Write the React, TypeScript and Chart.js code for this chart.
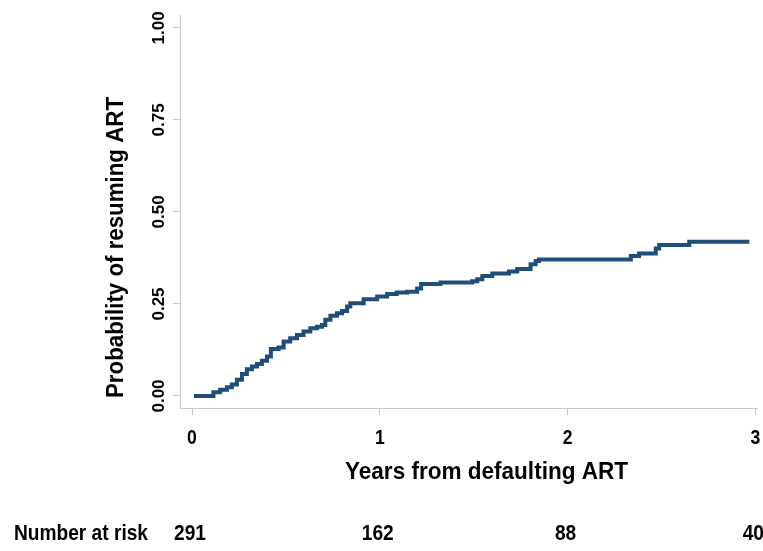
import React, { useEffect, useRef } from "react";
import { Chart, registerables } from "chart.js";

Chart.register(...registerables);

// Kaplan-Meier style cumulative probability of resuming ART (event times in years)
const eventTimes = [
  0.01, 0.09, 0.114, 0.15, 0.186, 0.212, 0.239, 0.266, 0.292, 0.319, 0.346, 0.372,
  0.399, 0.42, 0.461, 0.488, 0.523, 0.559, 0.594, 0.63, 0.666, 0.692, 0.71, 0.737,
  0.772, 0.799, 0.826, 0.843, 0.914, 0.986, 1.039, 1.09, 1.146, 1.199, 1.22, 1.323,
  1.492, 1.519, 1.546, 1.599, 1.688, 1.732, 1.803, 1.83, 1.848, 2.337, 2.381, 2.47,
  2.488, 2.648, 2.968,
];
const probResuming = [
  0, 0, 0.01, 0.017, 0.024, 0.031, 0.044, 0.06, 0.073, 0.08, 0.087, 0.096,
  0.107, 0.128, 0.132, 0.148, 0.157, 0.166, 0.175, 0.184, 0.188, 0.193, 0.207, 0.218,
  0.225, 0.231, 0.243, 0.252, 0.263, 0.27, 0.277, 0.281, 0.283, 0.292, 0.304, 0.308,
  0.312, 0.317, 0.326, 0.333, 0.338, 0.345, 0.358, 0.367, 0.371, 0.38, 0.387, 0.401,
  0.41, 0.419, 0.419,
];

const xTickValues = [0, 1, 2, 3];
const yTickValues = [0, 0.25, 0.5, 0.75, 1];
const yTickLabels = ["0.00", "0.25", "0.50", "0.75", "1.00"];
const riskTimes = [0, 1, 2, 3];
const riskCounts = [291, 162, 88, 40];

const xTitle = "Years from defaulting ART";
const yTitle = "Probability of resuming ART";
const riskLabel = "Number at risk";

const FONT = "'Liberation Sans', Arial, sans-serif";
const AXIS_GRAY = "#c8c8c8";
const LINE_BLUE = "#1f4e79";

function drawText(
  ctx: CanvasRenderingContext2D,
  text: string,
  x: number,
  y: number,
  sx: number,
  rotate: boolean
) {
  ctx.save();
  ctx.translate(x, y);
  if (rotate) ctx.rotate(-Math.PI / 2);
  ctx.scale(sx, 1);
  ctx.fillText(text, 0, 0);
  ctx.restore();
}

export default function App() {
  const canvasRef = useRef<HTMLCanvasElement>(null);

  useEffect(() => {
    document.body.style.margin = "0";
    const canvas = canvasRef.current;
    if (!canvas) return;

    const textPlugin = {
      id: "stataText",
      afterDraw(chart: any) {
        const ctx = chart.ctx as CanvasRenderingContext2D;
        const xs = chart.scales.x;
        const ys = chart.scales.y;
        ctx.save();
        ctx.fillStyle = "#000";
        ctx.textAlign = "center";
        ctx.textBaseline = "middle";

        // y tick labels (rotated)
        ctx.font = `bold 17px ${FONT}`;
        yTickValues.forEach((v, i) => {
          drawText(ctx, yTickLabels[i], 159, ys.getPixelForValue(v), 1, true);
        });

        // x tick labels
        ctx.font = `bold 20px ${FONT}`;
        xTickValues.forEach((v) => {
          drawText(ctx, String(v), xs.getPixelForValue(v), 438, 0.88, false);
        });

        // x axis title
        ctx.font = `bold 24px ${FONT}`;
        const xw = ctx.measureText(xTitle).width;
        drawText(ctx, xTitle, 486.5, 472.5, 283 / xw, false);

        // y axis title
        ctx.font = `bold 23px ${FONT}`;
        const yw = ctx.measureText(yTitle).width;
        drawText(ctx, yTitle, 117, 247.5, 301 / yw, true);

        // number at risk row
        ctx.font = `bold 22px ${FONT}`;
        const rw = ctx.measureText(riskLabel).width;
        const rs = 134 / rw;
        ctx.textAlign = "left";
        drawText(ctx, riskLabel, 14, 533.5, rs, false);
        ctx.textAlign = "center";
        riskTimes.forEach((t, i) => {
          drawText(ctx, String(riskCounts[i]), xs.getPixelForValue(t) - 2, 533.5, rs, false);
        });
        ctx.restore();
      },
    };

    const chart = new Chart(canvas, {
      type: "line",
      data: {
        datasets: [
          {
            data: eventTimes.map((t, i) => ({ x: t, y: probResuming[i] })),
            borderColor: LINE_BLUE,
            backgroundColor: LINE_BLUE,
            borderWidth: 4,
            pointRadius: 0,
            stepped: "before",
            fill: false,
          },
        ],
      },
      options: {
        responsive: false,
        animation: false,
        devicePixelRatio: 1,
        layout: { padding: { top: 15, right: 6, left: 0, bottom: 0 } },
        plugins: {
          legend: { display: false },
          tooltip: { enabled: false },
        },
        scales: {
          x: {
            type: "linear",
            min: -0.064,
            max: 3.009,
            afterBuildTicks: (s: any) => {
              s.ticks = xTickValues.map((v) => ({ value: v }));
            },
            afterFit: (s: any) => {
              s.height = 143;
            },
            ticks: { display: false },
            grid: {
              drawOnChartArea: false,
              drawTicks: true,
              tickLength: 7,
              color: AXIS_GRAY,
              lineWidth: 1,
            },
            border: { display: true, color: AXIS_GRAY, width: 1 },
          },
          y: {
            type: "linear",
            min: -0.0326,
            max: 1.035,
            afterBuildTicks: (s: any) => {
              s.ticks = yTickValues.map((v) => ({ value: v }));
            },
            afterFit: (s: any) => {
              s.width = 180;
            },
            ticks: { display: false },
            grid: {
              drawOnChartArea: false,
              drawTicks: true,
              tickLength: 7,
              color: AXIS_GRAY,
              lineWidth: 1,
            },
            border: { display: true, color: AXIS_GRAY, width: 1 },
          },
        },
      },
      plugins: [textPlugin],
    });

    return () => chart.destroy();
  }, []);

  return (
    <canvas
      ref={canvasRef}
      width={763}
      height={551}
      style={{ display: "block", width: 763, height: 551 }}
    />
  );
}
